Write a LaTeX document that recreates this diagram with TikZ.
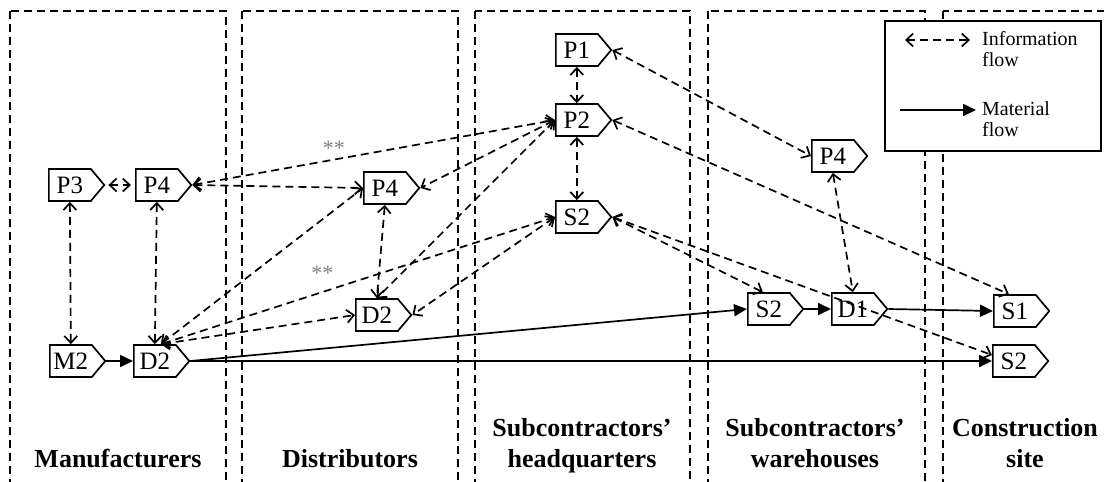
\documentclass[tikz,border=0pt]{standalone}
\usepackage{fontspec}
\setmainfont{Liberation Serif}
\usetikzlibrary{shapes.symbols,arrows.meta}
\begin{document}
\begin{tikzpicture}[x=1pt,y=-1pt,
  sig/.style={signal, signal to=east, signal pointer angle=100, draw, line width=1.7pt, fill=white,
    font=\fontsize{25}{30}\selectfont, text width=36pt, align=center, inner xsep=3pt, inner ysep=0pt,
    minimum height=32pt, anchor=west},
  info/.style={dash pattern=on 8pt off 5pt, line width=1.7pt,
    {Straight Barb[length=7pt,width=13pt]}-{Straight Barb[length=7pt,width=13pt]}},
  mat/.style={line width=1.7pt, -{Triangle[length=13pt,width=12pt]}},
  col/.style={dash pattern=on 8pt off 5pt, line width=1.6pt},
  lab/.style={font=\fontsize{26}{31}\selectfont\bfseries, align=center, anchor=base, inner sep=0pt},
  star/.style={font=\fontsize{22}{22}\selectfont, text=gray, inner sep=0pt},
  leg/.style={font=\fontsize{20}{21.5}\selectfont, align=left, anchor=north west, inner sep=0pt}
]
\useasboundingbox (0,0) rectangle (1104,482);
\clip (0,0) rectangle (1104,482);
% columns
\draw[col] (10,11) rectangle (226,495);
\draw[col] (242,11) rectangle (458,495);
\draw[col] (475,11) rectangle (690,495);
\draw[col] (708,11) rectangle (925,495);
\draw[col] (943,11) rectangle (1112,495);
% column labels
\node[lab] (lman) at (118,467) {Manufacturers};
\node[lab] (ldis) at (350,467) {Distributors};
\node[lab] (lhq) at (582,467) {Subcontractors'\\headquarters};
\node[lab] (lwh) at (815,467) {Subcontractors'\\warehouses};
\node[lab] (lcs) at (1025,467) {Construction\\site};
% legend
\node[draw, line width=1.6pt, fill=white, minimum width=216pt, minimum height=130pt,
  anchor=north west, inner sep=0pt] (legend) at (884,20) {};
\coordinate (ia) at (905,40);
\coordinate (ib) at (970,40);
\draw[info] (ia) -- (ib);
\node[leg] (linfo) at (982,31) {Information\\flow};
\coordinate (ma) at (900,110);
\coordinate (mb) at (976,110);
\draw[mat] (ma) -- (mb);
\node[leg] (lmat) at (982,101) {Material\\flow};
% nodes
\node[sig] (p3) at (48,185) {P3};
\node[sig] (p4m) at (135,185) {P4};
\node[sig] (m2) at (49,361) {M2};
\node[sig] (d2m) at (133,361) {D2};
\node[sig] (p4d) at (363,188) {P4};
\node[sig] (d2d) at (355,315) {D2};
\node[sig] (p1) at (555,50) {P1};
\node[sig] (p2) at (555,120) {P2};
\node[sig] (s2h) at (555,217) {S2};
\node[sig] (p4w) at (811,156) {P4};
\node[sig] (s2w) at (747,309) {S2};
\node[sig] (d1) at (831,309) {D1};
\node[sig] (s1) at (993,311) {S1};
\node[sig] (s2c) at (992,361) {S2};
% information flows
\coordinate (d2mt) at ([xshift=6pt]d2m.north);
\draw[info, shorten <=3pt, shorten >=4pt] (p3.east) -- (p4m.west);
\draw[info] (p3.south) -- (m2.north);
\draw[info] (p4m.south) -- (d2m.north);
\draw[info] (p4m.east) -- (p4d.west);
\draw[info] (p4m.east) -- node[star, pos=0.39, above=3pt] (st1) {**} (p2.west);
\draw[info] (d2mt) -- (p4d.west);
\draw[info] (d2mt) -- node[star, pos=0.41, above=11pt] (st2) {**} (s2h.west);
\draw[info] (d2mt) -- (d2d.west);
\draw[info] (p4d.south) -- (d2d.north);
\draw[info] (p2.west) -- (p4d.east);
\draw[info] (p2.west) -- (d2d.north);
\draw[info] (s2h.west) -- (d2d.east);
\draw[info] (p1.south) -- (p2.north);
\draw[info] (p2.south) -- (s2h.north);
\draw[info] (p1.east) -- (p4w.west);
\draw[info] (p2.east) -- ([xshift=-6pt]s1.north);
\draw[info] (p4w.south) -- (d1.north);
\draw[info] (s2h.east) -- ([xshift=-6pt]s2w.north);
\draw[info] (s2h.east) -- ([yshift=6pt]s2c.west);
% material flows
\draw[mat] (m2.east) -- (d2m.west);
\draw[mat] (d2m.east) -- (s2w.west);
\draw[mat] (d2m.east) -- (s2c.west);
\draw[mat] (s2w.east) -- (d1.west);
\draw[mat] (d1.east) -- (s1.west);
\end{tikzpicture}
\end{document}
